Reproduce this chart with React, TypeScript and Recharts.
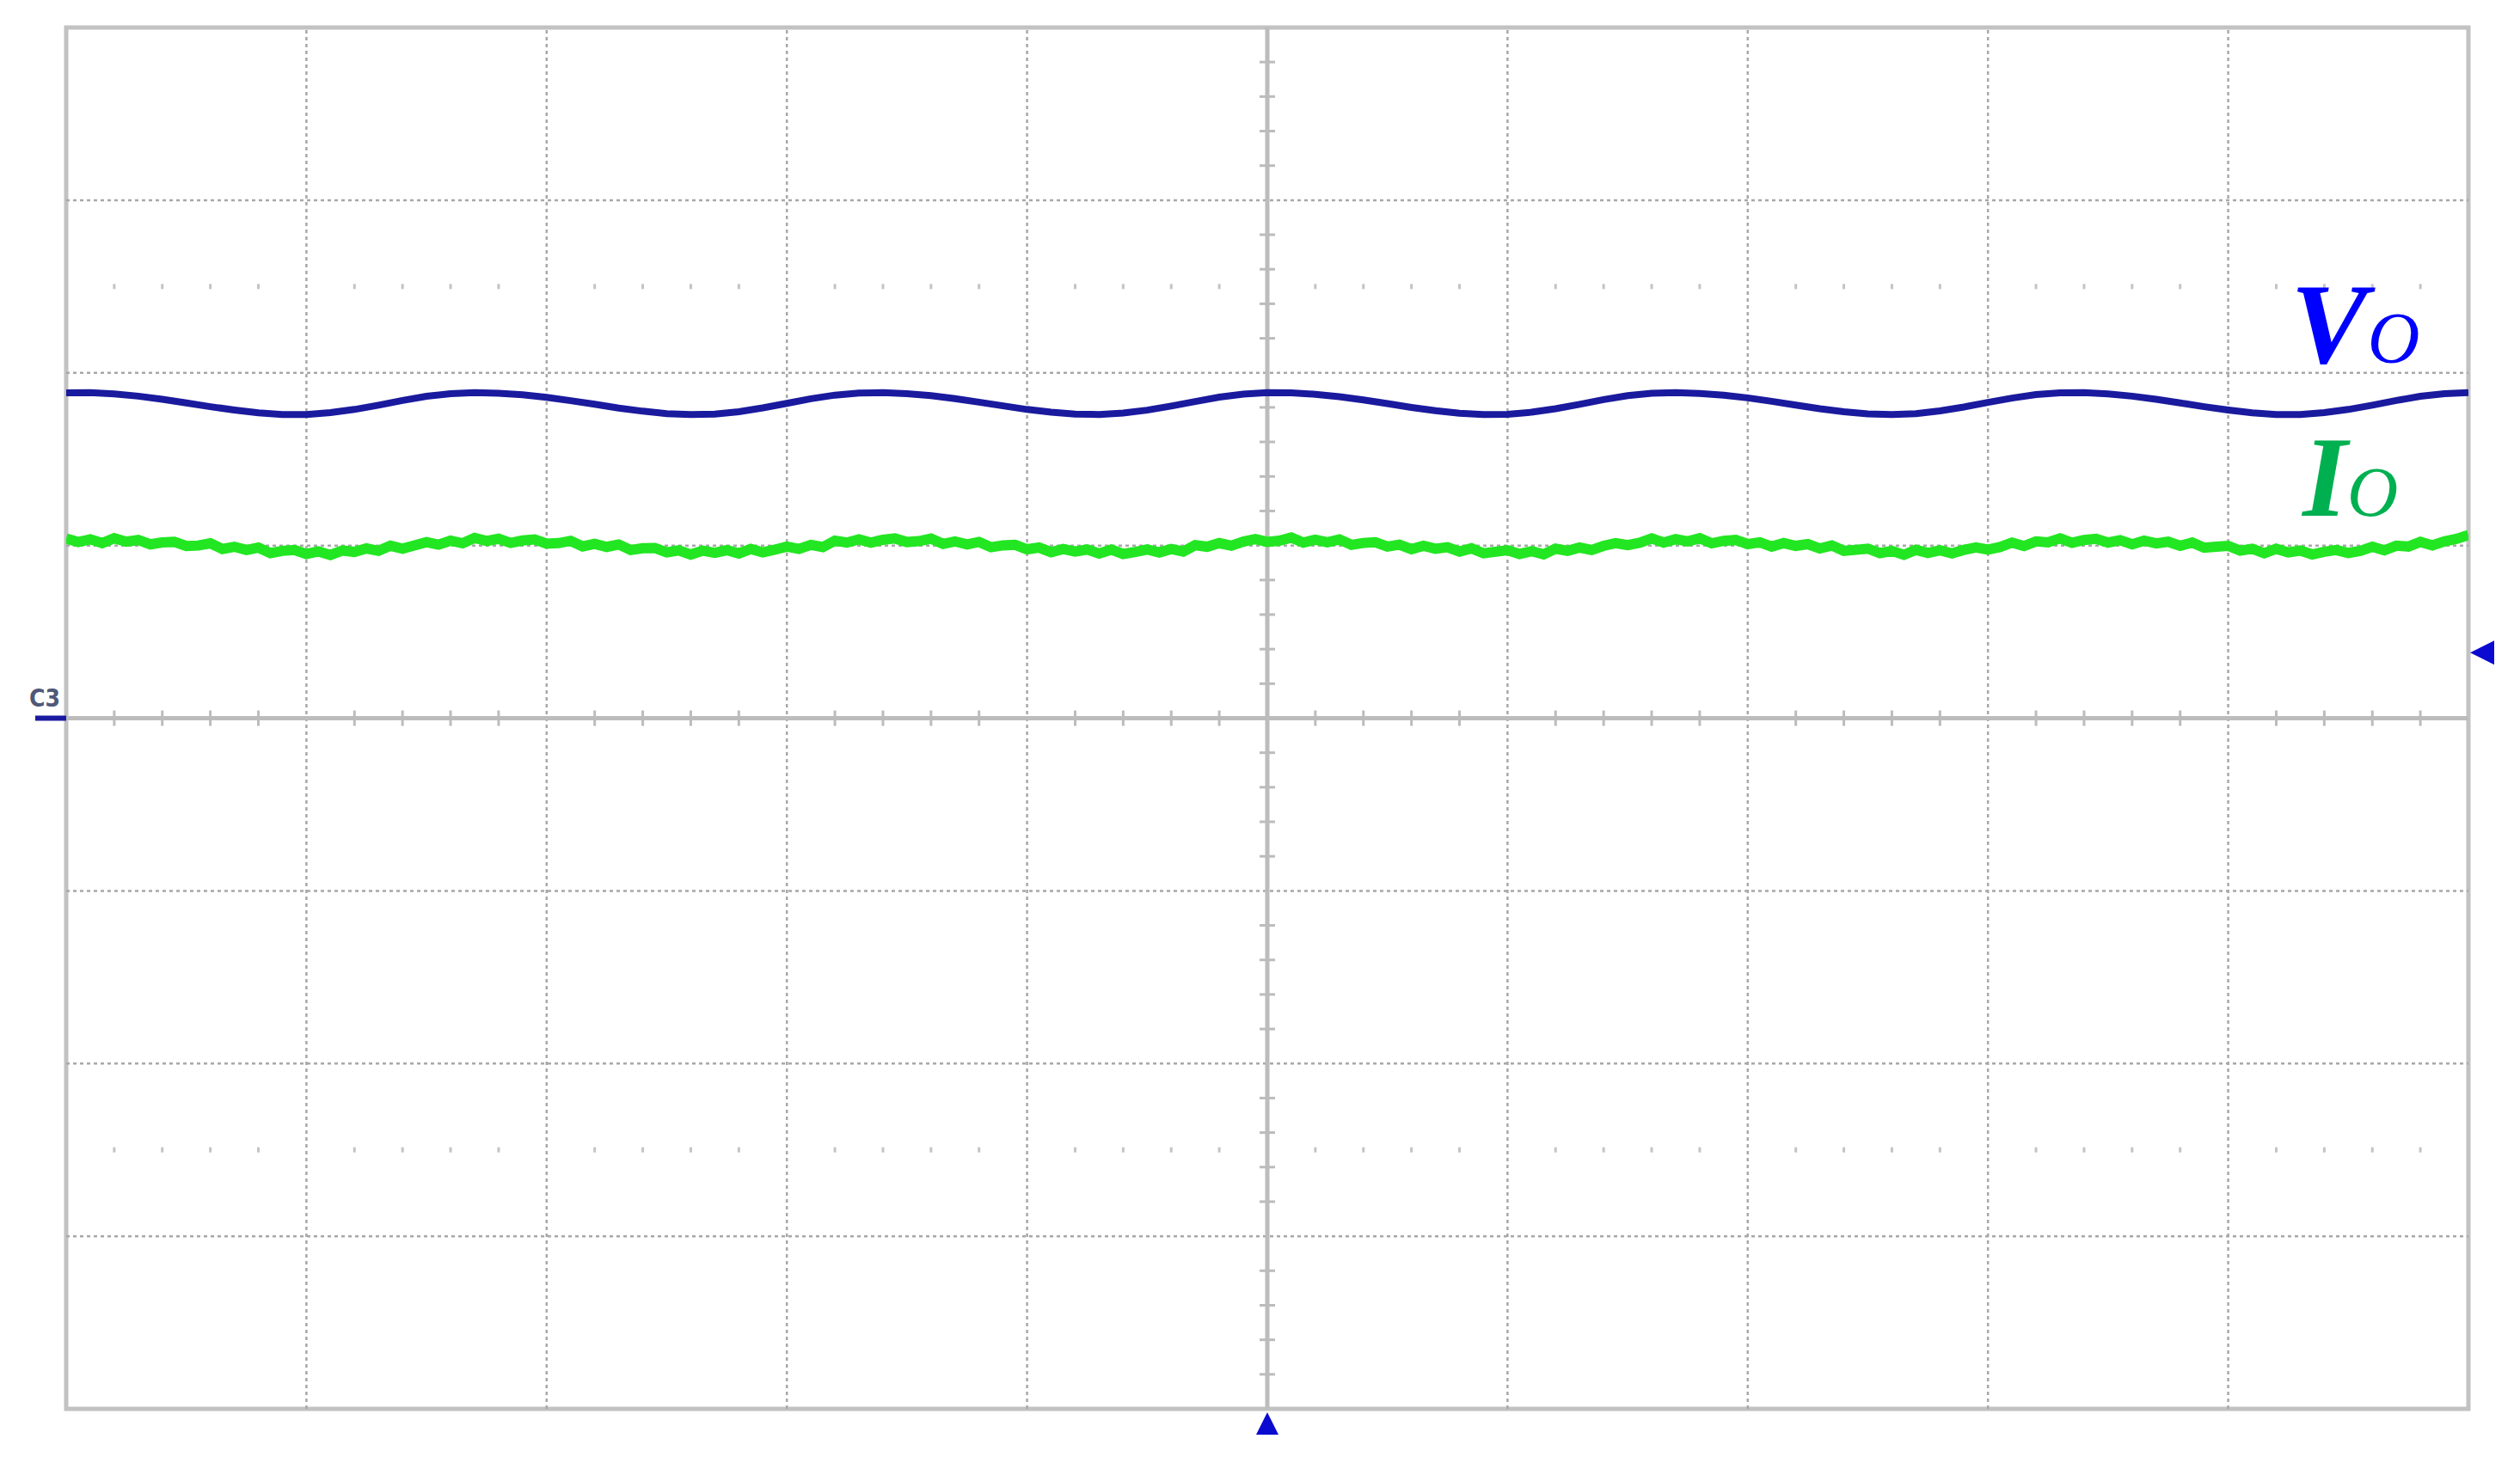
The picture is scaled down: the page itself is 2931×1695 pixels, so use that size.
import {
  ComposedChart,
  Line,
  Scatter,
  XAxis,
  YAxis,
  ReferenceLine,
  ReferenceArea,
  ReferenceDot,
} from "recharts";

// scope screen in divisions: 10 horizontal, 8 vertical
const GRID_X = [-4, -3, -2, -1, 1, 2, 3, 4];
const GRID_Y = [-3, -2, -1, 1, 2, 3];

// 1/5-division graduations on the centre axes
const MINOR_X = [
  -4.8, -4.6, -4.4, -4.2, -3.8, -3.6, -3.4, -3.2, -2.8, -2.6, -2.4, -2.2,
  -1.8, -1.6, -1.4, -1.2, -0.8, -0.6, -0.4, -0.2, 0.2, 0.4, 0.6, 0.8,
  1.2, 1.4, 1.6, 1.8, 2.2, 2.4, 2.6, 2.8, 3.2, 3.4, 3.6, 3.8,
  4.2, 4.4, 4.6, 4.8,
];
const MINOR_Y = [
  -3.8, -3.6, -3.4, -3.2, -2.8, -2.6, -2.4, -2.2, -1.8, -1.6, -1.4, -1.2,
  -0.8, -0.6, -0.4, -0.2, 0.2, 0.4, 0.6, 0.8, 1.2, 1.4, 1.6, 1.8,
  2.2, 2.4, 2.6, 2.8, 3.2, 3.4, 3.6, 3.8,
];
const DOT_ROWS = [2.5, -2.5];

// Vo trace, one sample every 0.1 div from -5
const VO_START = -5;
const VO_STEP = 0.1;
const VO = [
  1.884, 1.885, 1.878, 1.865, 1.847, 1.826, 1.804, 1.785, 1.769, 1.759, 1.759,
  1.77, 1.788, 1.813, 1.84, 1.864, 1.879,
  1.885, 1.882, 1.873, 1.858, 1.839, 1.818, 1.796, 1.778, 1.764, 1.758, 1.761,
  1.775, 1.797, 1.823, 1.85, 1.871, 1.883,
  1.885, 1.879, 1.868, 1.851, 1.83, 1.809, 1.788, 1.772, 1.761, 1.759, 1.767,
  1.784, 1.808, 1.834, 1.859, 1.877,
  1.885, 1.884, 1.876, 1.862, 1.843, 1.822, 1.8, 1.781, 1.766, 1.758, 1.76,
  1.772, 1.792, 1.818, 1.845, 1.868, 1.882,
  1.885, 1.881, 1.871, 1.855, 1.835, 1.813, 1.792, 1.775, 1.762, 1.758, 1.764,
  1.78, 1.802, 1.829, 1.854, 1.874, 1.884,
  1.885, 1.878, 1.865, 1.847, 1.826, 1.804, 1.785, 1.769, 1.759, 1.759, 1.77,
  1.788, 1.813, 1.84, 1.864, 1.879, 1.885,
];

// Io trace, one sample every 0.05 div from -5
const IO_START = -5;
const IO_STEP = 0.05;
const IO = [
  1.04, 1.02, 1.036, 1.014, 1.042, 1.022, 1.032, 1.007, 1.018, 1.021,
  0.997, 1.0, 1.013, 0.98, 0.993, 0.974, 0.988, 0.956, 0.969, 0.974,
  0.951, 0.966, 0.945, 0.971, 0.963, 0.983, 0.969, 0.999, 0.982, 1.001,
  1.02, 1.005, 1.028, 1.013, 1.044, 1.026, 1.039, 1.015, 1.029, 1.035,
  1.011, 1.014, 1.027, 0.995, 1.01, 0.992, 1.006, 0.974, 0.984, 0.986,
  0.96, 0.972, 0.948, 0.97, 0.958, 0.973, 0.954, 0.98, 0.96, 0.976,
  0.994, 0.98, 1.004, 0.991, 1.028, 1.017, 1.036, 1.017, 1.033, 1.041,
  1.02, 1.025, 1.04, 1.009, 1.024, 1.006, 1.021, 0.99, 1.001, 1.004,
  0.978, 0.988, 0.961, 0.98, 0.965, 0.977, 0.954, 0.976, 0.951, 0.963,
  0.977, 0.959, 0.98, 0.965, 1.002, 0.993, 1.014, 0.999, 1.023, 1.037,
  1.021, 1.028, 1.046, 1.017, 1.034, 1.019, 1.035, 1.004, 1.015, 1.019,
  0.994, 1.005, 0.979, 0.998, 0.981, 0.99, 0.965, 0.984, 0.955, 0.964,
  0.973, 0.951, 0.967, 0.949, 0.982, 0.969, 0.988, 0.974, 0.998, 1.014,
  1.002, 1.016, 1.041, 1.017, 1.037, 1.024, 1.042, 1.013, 1.027, 1.032,
  1.008, 1.019, 0.994, 1.014, 0.998, 1.008, 0.983, 1.0, 0.969, 0.975,
  0.982, 0.956, 0.969, 0.946, 0.975, 0.957, 0.972, 0.954, 0.975, 0.989,
  0.976, 0.991, 1.017, 0.997, 1.024, 1.018, 1.041, 1.016, 1.032, 1.039,
  1.017, 1.031, 1.007, 1.028, 1.012, 1.022, 0.998, 1.017, 0.987, 0.993,
  0.998, 0.97, 0.981, 0.955, 0.981, 0.96, 0.971, 0.948, 0.964, 0.974,
  0.957, 0.969, 0.993, 0.972, 0.999, 0.994, 1.021, 1.001, 1.024, 1.038,
  1.06,
];

const voData = VO.map((v, i) => ({ t: VO_START + i * VO_STEP, v }));
const ioData = IO.map((v, i) => ({ t: IO_START + i * IO_STEP, v }));
const xTicks = MINOR_X.map((t) => ({ t, v: 0 }));
const yTicks = MINOR_Y.map((v) => ({ t: 0, v }));
const dotRows = DOT_ROWS.flatMap((v) => MINOR_X.map((t) => ({ t, v })));

const AXIS_GRAY = "#bcbcbc";
const GRID_GRAY = "#a8a8a8";

const vTick = (props: any) => (
  <line x1={props.cx} x2={props.cx} y1={props.cy - 9} y2={props.cy + 9} stroke={AXIS_GRAY} strokeWidth={3} />
);
const hTick = (props: any) => (
  <line x1={props.cx - 9} x2={props.cx + 9} y1={props.cy} y2={props.cy} stroke={AXIS_GRAY} strokeWidth={3} />
);
const rowDot = (props: any) => (
  <line x1={props.cx} x2={props.cx} y1={props.cy - 3} y2={props.cy + 3} stroke="#c4c4c4" strokeWidth={3} />
);

export default function App() {
  return (
    <div style={{ position: "absolute", left: 0, top: 0, width: 2931, height: 1695, background: "#fff" }}>
      <ComposedChart width={2931} height={1695} margin={{ top: 32, right: 60, bottom: 56, left: 77 }}>
        <XAxis
          type="number"
          dataKey="t"
          domain={[-5, 5]}
          tick={false}
          tickLine={false}
          axisLine={false}
          height={0}
          allowDataOverflow
        />
        <YAxis
          type="number"
          domain={[-4, 4]}
          tick={false}
          tickLine={false}
          axisLine={false}
          width={0}
          allowDataOverflow
        />
        {GRID_X.map((x) => (
          <ReferenceLine key={`gx${x}`} x={x} stroke={GRID_GRAY} strokeWidth={2.5} strokeDasharray="4 4" />
        ))}
        {GRID_Y.map((y) => (
          <ReferenceLine key={`gy${y}`} y={y} stroke={GRID_GRAY} strokeWidth={2.5} strokeDasharray="4 4" />
        ))}
        <ReferenceArea x1={-5} x2={5} y1={-4} y2={4} fill="none" stroke="#c2c2c2" strokeWidth={5} ifOverflow="visible" />
        <ReferenceLine x={0} stroke={AXIS_GRAY} strokeWidth={5} />
        <ReferenceLine y={0} stroke={AXIS_GRAY} strokeWidth={5} />

        <Scatter data={xTicks} dataKey="v" shape={vTick} isAnimationActive={false} />
        <Scatter data={yTicks} dataKey="v" shape={hTick} isAnimationActive={false} />
        <Scatter data={dotRows} dataKey="v" shape={rowDot} isAnimationActive={false} />

        <Line
          data={ioData}
          dataKey="v"
          type="linear"
          stroke="#22e622"
          strokeWidth={12}
          dot={false}
          activeDot={false}
          isAnimationActive={false}
        />
        <Line
          data={voData}
          dataKey="v"
          type="linear"
          stroke="#1a1a9e"
          strokeWidth={8}
          dot={false}
          activeDot={false}
          isAnimationActive={false}
        />

        {/* channel marker and label */}
        <ReferenceDot
          x={-5}
          y={0}
          ifOverflow="visible"
          shape={(p: any) => (
            <g>
              <rect x={p.cx - 36} y={p.cy - 3} width={36} height={6} fill="#1a1aa0" />
              <text
                x={p.cx - 43}
                y={p.cy - 14}
                fontSize={28}
                fontWeight="bold"
                fontFamily="DejaVu Sans Condensed, DejaVu Sans, sans-serif"
                fill="#505878"
              >
                C3
              </text>
            </g>
          )}
        />
        {/* trigger level marker */}
        <ReferenceDot
          x={5}
          y={0.38}
          ifOverflow="visible"
          shape={(p: any) => (
            <polygon
              points={`${p.cx + 2},${p.cy} ${p.cx + 30},${p.cy - 14} ${p.cx + 30},${p.cy + 14}`}
              fill="#0a0ad0"
            />
          )}
        />
        {/* trigger position marker */}
        <ReferenceDot
          x={0}
          y={-4}
          ifOverflow="visible"
          shape={(p: any) => (
            <polygon
              points={`${p.cx},${p.cy + 4} ${p.cx - 13},${p.cy + 30} ${p.cx + 13},${p.cy + 30}`}
              fill="#0a0ad0"
            />
          )}
        />

        {/* trace labels */}
        <ReferenceDot
          x={4.26}
          y={2.06}
          shape={(p: any) => (
            <text x={p.cx} y={p.cy} fill="#0000ff" fontFamily="Liberation Serif, serif" fontStyle="italic">
              <tspan fontSize={134} fontWeight="bold">V</tspan>
              <tspan fontSize={84}>O</tspan>
            </text>
          )}
        />
        <ReferenceDot
          x={4.31}
          y={1.17}
          shape={(p: any) => (
            <text x={p.cx} y={p.cy} fill="#00b050" fontFamily="Liberation Serif, serif" fontStyle="italic">
              <tspan fontSize={133} fontWeight="bold">I</tspan>
              <tspan fontSize={82}>O</tspan>
            </text>
          )}
        />
      </ComposedChart>
    </div>
  );
}
